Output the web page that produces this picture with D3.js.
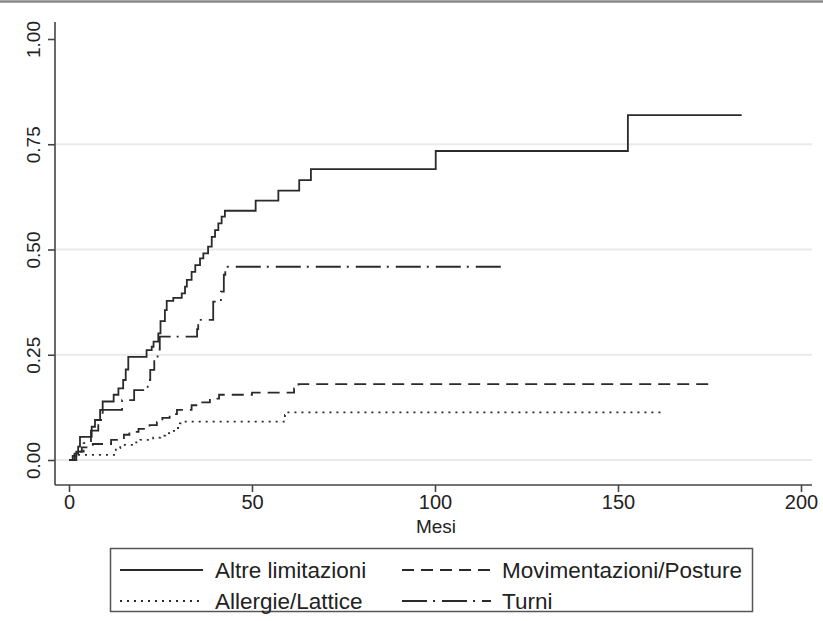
<!DOCTYPE html>
<html>
<head>
  <meta charset="utf-8">
  <title>Curve di incidenza cumulativa</title>
  <script src="https://cdn.jsdelivr.net/npm/d3@7/dist/d3.min.js"></script>
  <style>
    body { margin: 0; background: #fff; }
    svg text { font-family: "Liberation Sans", Arial, sans-serif; fill: #222; }
  </style>
</head>
<body>
<svg id="chart" width="823" height="621"></svg>
<script>
  // 1. Data (months, cumulative proportion)
  var xTicks = [0, 50, 100, 150, 200];
  var yTicks = [0, 0.25, 0.5, 0.75, 1];
  var yTickLabels = ["0.00", "0.25", "0.50", "0.75", "1.00"];

  var altreT = [0, 1.5, 2.5, 3, 6.2, 7.1, 8.5, 9.2, 12.2, 13.5, 14.8, 15.5, 16.2, 21.2, 22.6, 23.1, 24.4, 25, 26.2, 26.7,
    28.5, 30.8, 31.7, 32.2, 33.5, 34.5, 35.8, 36.7, 38, 39, 39.9, 40.8, 41.7, 42.6, 51, 57.2, 62.9, 66.1, 100.2, 152.7, 183.8];
  var altreV = [0, 0.015, 0.032, 0.055, 0.079, 0.095, 0.119, 0.139, 0.155, 0.17, 0.19, 0.215, 0.245, 0.261, 0.269, 0.281, 0.301, 0.33, 0.356, 0.378,
    0.385, 0.396, 0.412, 0.428, 0.447, 0.463, 0.479, 0.491, 0.507, 0.53, 0.546, 0.562, 0.578, 0.592, 0.616, 0.64, 0.665, 0.691, 0.734, 0.819, 0.819];

  var movT = [0, 1, 2, 3.5, 6.5, 11.5, 15, 16.5, 19, 22, 24, 25.5, 27.5, 29.5, 33.5, 36, 38.5, 41, 50, 61.5, 62.7, 175.1];
  var movV = [0, 0.01, 0.02, 0.03, 0.038, 0.048, 0.06, 0.067, 0.074, 0.083, 0.09, 0.1, 0.109, 0.119, 0.13, 0.137, 0.146, 0.155, 0.16, 0.17, 0.18, 0.18];

  var allT = [0, 1.5, 12.8, 14, 17.5, 19.5, 23, 25, 26.3, 27.7, 29.2, 30.3, 30.8, 59, 59.5, 162.8];
  var allV = [0, 0.012, 0.028, 0.036, 0.042, 0.048, 0.053, 0.058, 0.064, 0.069, 0.076, 0.087, 0.091, 0.107, 0.113, 0.113];

  var turniT = [0, 2, 4, 6, 8, 9.2, 14.5, 17.8, 21.5, 22.2, 23.3, 24.2, 24.8, 35, 35.3, 39.4, 41.5, 42.3, 42.7, 119.6];
  var turniV = [0, 0.02, 0.04, 0.07, 0.095, 0.119, 0.142, 0.166, 0.19, 0.214, 0.238, 0.262, 0.293, 0.311, 0.333, 0.376, 0.4, 0.44, 0.459, 0.459];

  var series = [
    { name: "Altre limitazioni", t: altreT, v: altreV, dash: null },
    { name: "Movimentazioni/Posture", t: movT, v: movV, dash: "12 7" },
    { name: "Allergie/Lattice", t: allT, v: allV, dash: "2 5" },
    { name: "Turni", t: turniT, v: turniV, dash: "25 6 2 7" }
  ];

  // 2. Scales
  var x = d3.scaleLinear().domain([0, 200]).range([69, 801]);
  var y = d3.scaleLinear().domain([0, 1]).range([460, 39]);

  var svg = d3.select("#chart");

  // top frame line
  svg.append("line")
    .attr("x1", 0).attr("x2", 823).attr("y1", 1.5).attr("y2", 1.5)
    .attr("stroke", "#888").attr("stroke-width", 2.5);

  // 3. Grid
  svg.append("g").selectAll("line")
    .data(yTicks.slice(0, 4))
    .enter().append("line")
    .attr("x1", 56).attr("x2", 812)
    .attr("y1", function(d) { return y(d); })
    .attr("y2", function(d) { return y(d); })
    .attr("stroke", "#eaeaea").attr("stroke-width", 2);

  // 4. Axes
  var xAxis = svg.append("g")
    .attr("transform", "translate(0,485)")
    .call(d3.axisBottom(x).tickValues(xTicks).tickSize(7).tickPadding(3).tickSizeOuter(0));
  xAxis.select(".domain").attr("d", "M55,0H812");
  xAxis.selectAll("text").style("font-size", "20px");

  var yAxis = svg.append("g")
    .attr("transform", "translate(55,0)")
    .call(d3.axisLeft(y).tickValues(yTicks).tickSize(7).tickSizeOuter(0)
      .tickFormat(function(d, i) { return yTickLabels[i]; }));
  yAxis.select(".domain").attr("d", "M0,22V485");
  yAxis.selectAll("text")
    .attr("x", null).attr("dy", null)
    .attr("text-anchor", "middle")
    .attr("transform", "translate(-15,0) rotate(-90)")
    .style("font-size", "19px");

  svg.selectAll(".domain, .tick line").attr("stroke", "#444").attr("stroke-width", 1.6);

  svg.append("text")
    .attr("x", 436).attr("y", 533)
    .attr("text-anchor", "middle")
    .style("font-size", "19px")
    .text("Mesi");

  // 5. Curves
  var line = d3.line()
    .x(function(d) { return x(d[0]); })
    .y(function(d) { return y(d[1]); })
    .curve(d3.curveStepAfter);

  svg.append("g").selectAll("path")
    .data(series)
    .enter().append("path")
    .attr("fill", "none")
    .attr("stroke", "#2a2a2a")
    .attr("stroke-width", 1.8)
    .attr("stroke-dasharray", function(d) { return d.dash; })
    .attr("d", function(d) { return line(d.t.map(function(t, i) { return [t, d.v[i]]; })); });

  // 6. Legend
  var legend = svg.append("g");
  legend.append("rect")
    .attr("x", 110.5).attr("y", 548.5).attr("width", 642).attr("height", 63)
    .attr("fill", "#fff").attr("stroke", "#555").attr("stroke-width", 1.5);

  var legendPos = [[120, 570], [402, 570], [120, 601], [402, 601]];
  var legendOrder = [0, 1, 2, 3];
  var item = legend.selectAll("g.item")
    .data(legendOrder)
    .enter().append("g")
    .attr("class", "item")
    .attr("transform", function(d, i) { return "translate(" + legendPos[i][0] + "," + legendPos[i][1] + ")"; });
  item.append("line")
    .attr("x1", 0).attr("x2", function(d, i) { return i % 2 ? 89 : 83; })
    .attr("y1", 0).attr("y2", 0)
    .attr("stroke", "#2a2a2a").attr("stroke-width", 1.8)
    .attr("stroke-dasharray", function(d) { return series[d].dash; });
  item.append("text")
    .attr("x", function(d, i) { return i % 2 ? 100 : 95; })
    .attr("y", 8)
    .style("font-size", "22.5px")
    .text(function(d) { return series[d].name; });
</script>
</body>
</html>
